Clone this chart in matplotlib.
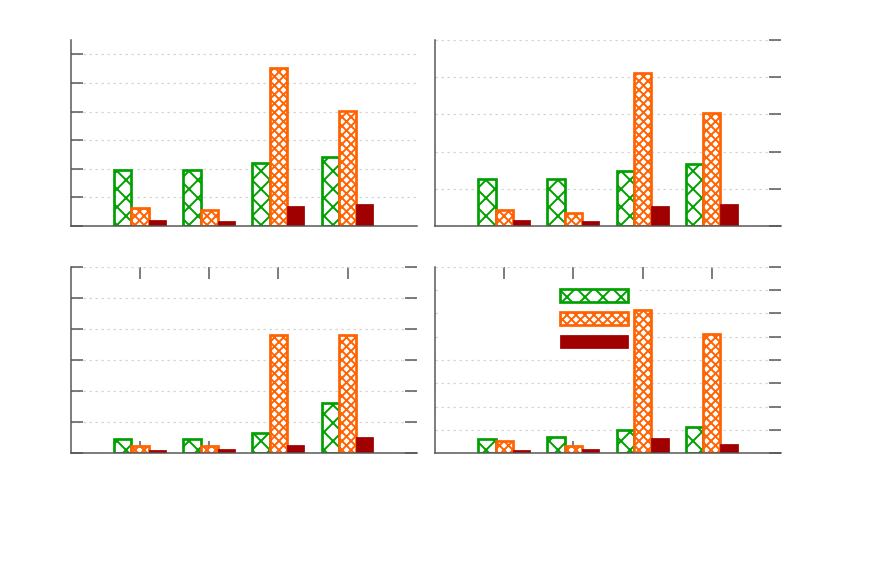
import matplotlib
matplotlib.use("Agg")
import matplotlib.pyplot as plt
import numpy as np

# ----------------- data (no text in it) -----------------
groups = [1, 2, 3, 4]

tl_green = [1.95, 1.94, 2.20, 2.42]
tl_orange = [0.64, 0.56, 5.52, 4.03]
tl_red = [0.20, 0.17, 0.69, 0.78]

tr_green = [1.26, 1.27, 1.49, 1.66]
tr_orange = [0.43, 0.36, 4.10, 3.03]
tr_red = [0.16, 0.13, 0.53, 0.58]

bl_green = [0.47, 0.45, 0.65, 1.61]
bl_orange = [0.24, 0.22, 3.79, 3.81]
bl_red = [0.12, 0.13, 0.26, 0.53]

br_green = [0.63, 0.71, 1.01, 1.14]
br_orange = [0.53, 0.33, 6.15, 5.10]
br_red = [0.15, 0.17, 0.64, 0.41]

GREEN = "#00a000"
ORANGE = "#ff6200"
RED = "#a00000"
AXC = "#555555"

DPI = 108
plt.rcParams.update({
    "hatch.linewidth": 1.3,
    "axes.linewidth": 1.0,
    "axes.edgecolor": AXC,
})

fig = plt.figure(figsize=(886 / DPI, 581 / DPI), dpi=DPI)

W, H = 886, 581
def box(x0, x1, ytop, ybot):
    return [x0 / W, (H - ybot) / H, (x1 - x0) / W, (ybot - ytop) / H]

panels = [
    # position, data, ylim, ticks, tick sides, top xticks
    (box(71, 416.7, 40, 226), (tl_green, tl_orange, tl_red), 6.5, range(0, 7), "left", False),
    (box(435, 781, 40, 226), (tr_green, tr_orange, tr_red), 5, range(0, 6), "right", False),
    (box(71, 416.7, 266.7, 453.3), (bl_green, bl_orange, bl_red), 6, range(0, 7), "both", True),
    (box(435, 781, 266.7, 453.3), (br_green, br_orange, br_red), 8, range(0, 9), "right", True),
]

x = np.array(groups, dtype=float)
bw = 0.25
axes = []
for pos, (g, o, r), ymax, yt, side, topx in panels:
    ax = fig.add_axes(pos)
    ax.set_axisbelow(True)
    hg = ax.bar(x - bw, g, bw, facecolor="white", edgecolor=GREEN, hatch="xx",
                linewidth=1.8, zorder=2)
    ho = ax.bar(x, o, bw, facecolor="white", edgecolor=ORANGE, hatch="xxxx",
                linewidth=1.8, zorder=2)
    hr = ax.bar(x + bw, r, bw, facecolor=RED, edgecolor=RED, linewidth=0.5, zorder=2)

    ax.set_xlim(0, 5)
    ax.set_ylim(0, ymax)
    ax.set_xticks(groups)
    ax.set_yticks(list(yt))
    ax.set_xticklabels([])
    ax.set_yticklabels([])
    ax.tick_params(axis="x", direction="in", length=8, width=1.0, color=AXC,
                   bottom=True, top=topx)
    ax.tick_params(axis="y", direction="in", length=8, width=1.0, color=AXC,
                   left=side in ("left", "both"), right=side in ("right", "both"))
    ax.grid(True, axis="y", color="#d4d4d4", linestyle=(0, (2, 3)), linewidth=0.8)
    ax.spines["top"].set_visible(False)
    ax.spines["right"].set_visible(False)
    axes.append((ax, hg, ho, hr))

# legend lives in the bottom-right panel, samples only
ax, hg, ho, hr = axes[3]
leg = ax.legend([hg, ho, hr], ["", "", ""], loc="upper right",
                bbox_to_anchor=((637 - 435) / 346, (453.3 - 280) / 186.6),
                markerfirst=False, fontsize=6, handlelength=7.6, handleheight=1.81,
                labelspacing=1.15, borderpad=1.0, handletextpad=12.5,
                frameon=True, framealpha=1, facecolor="white", edgecolor="none",
                fancybox=False, borderaxespad=0)
leg.set_zorder(1.5)

fig.savefig("out.png", dpi=DPI)
